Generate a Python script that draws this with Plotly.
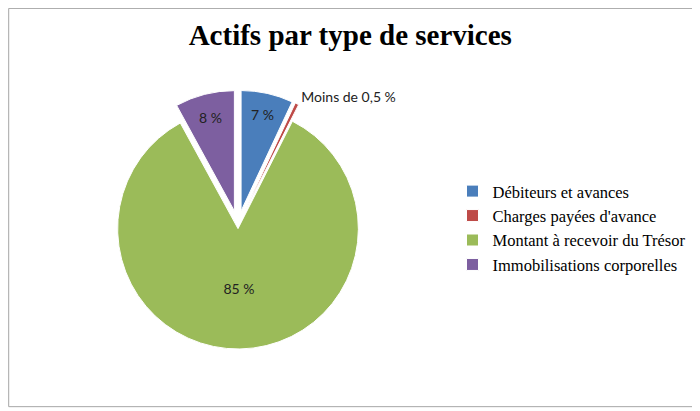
import plotly.graph_objects as go

# données
categories = ["Débiteurs et avances", "Charges payées d'avance",
              "Montant à recevoir du Trésor", "Immobilisations corporelles"]
valeurs = [7, 0.5, 85, 8]
etiquettes = ["7 %", "Moins de 0,5 %", "85 %", "8 %"]
couleurs = ["#4A7EBB", "#BE4B48", "#9BBB59", "#7D5FA0"]

fig = go.Figure()

fig.add_trace(go.Pie(
    labels=categories,
    values=valeurs,
    text=etiquettes,
    textinfo="text",
    textposition=["inside", "outside", "inside", "inside"],
    insidetextorientation="horizontal",
    textfont=dict(family="Lato", size=14, color="#222222"),
    marker=dict(colors=couleurs, line=dict(color="white", width=1)),
    pull=[0.12, 0.12, 0.03, 0.12],
    sort=False,
    direction="clockwise",
    rotation=0,
    domain=dict(x=[0.114, 0.543], y=[0.144, 0.80]),
    showlegend=True,
))

fig.update_layout(
    width=700, height=411,
    margin=dict(l=0, r=0, t=0, b=0),
    paper_bgcolor="white",
    title=dict(text="<b>Actifs par type de services</b>", x=0.489, y=0.934,
               xanchor="center", yanchor="middle",
               font=dict(family="Liberation Serif", size=29, color="black")),
    legend=dict(x=0.635, y=0.465, xanchor="left", yanchor="middle",
                font=dict(family="Liberation Serif", size=16.5, color="black"),
                itemwidth=30),
    shapes=[dict(type="rect", xref="paper", yref="paper", x0=0.001, y0=0.03,
                 x1=0.985, y1=0.999, line=dict(color="#A6A6A6", width=1))],
)

fig.write_html("out.html")
